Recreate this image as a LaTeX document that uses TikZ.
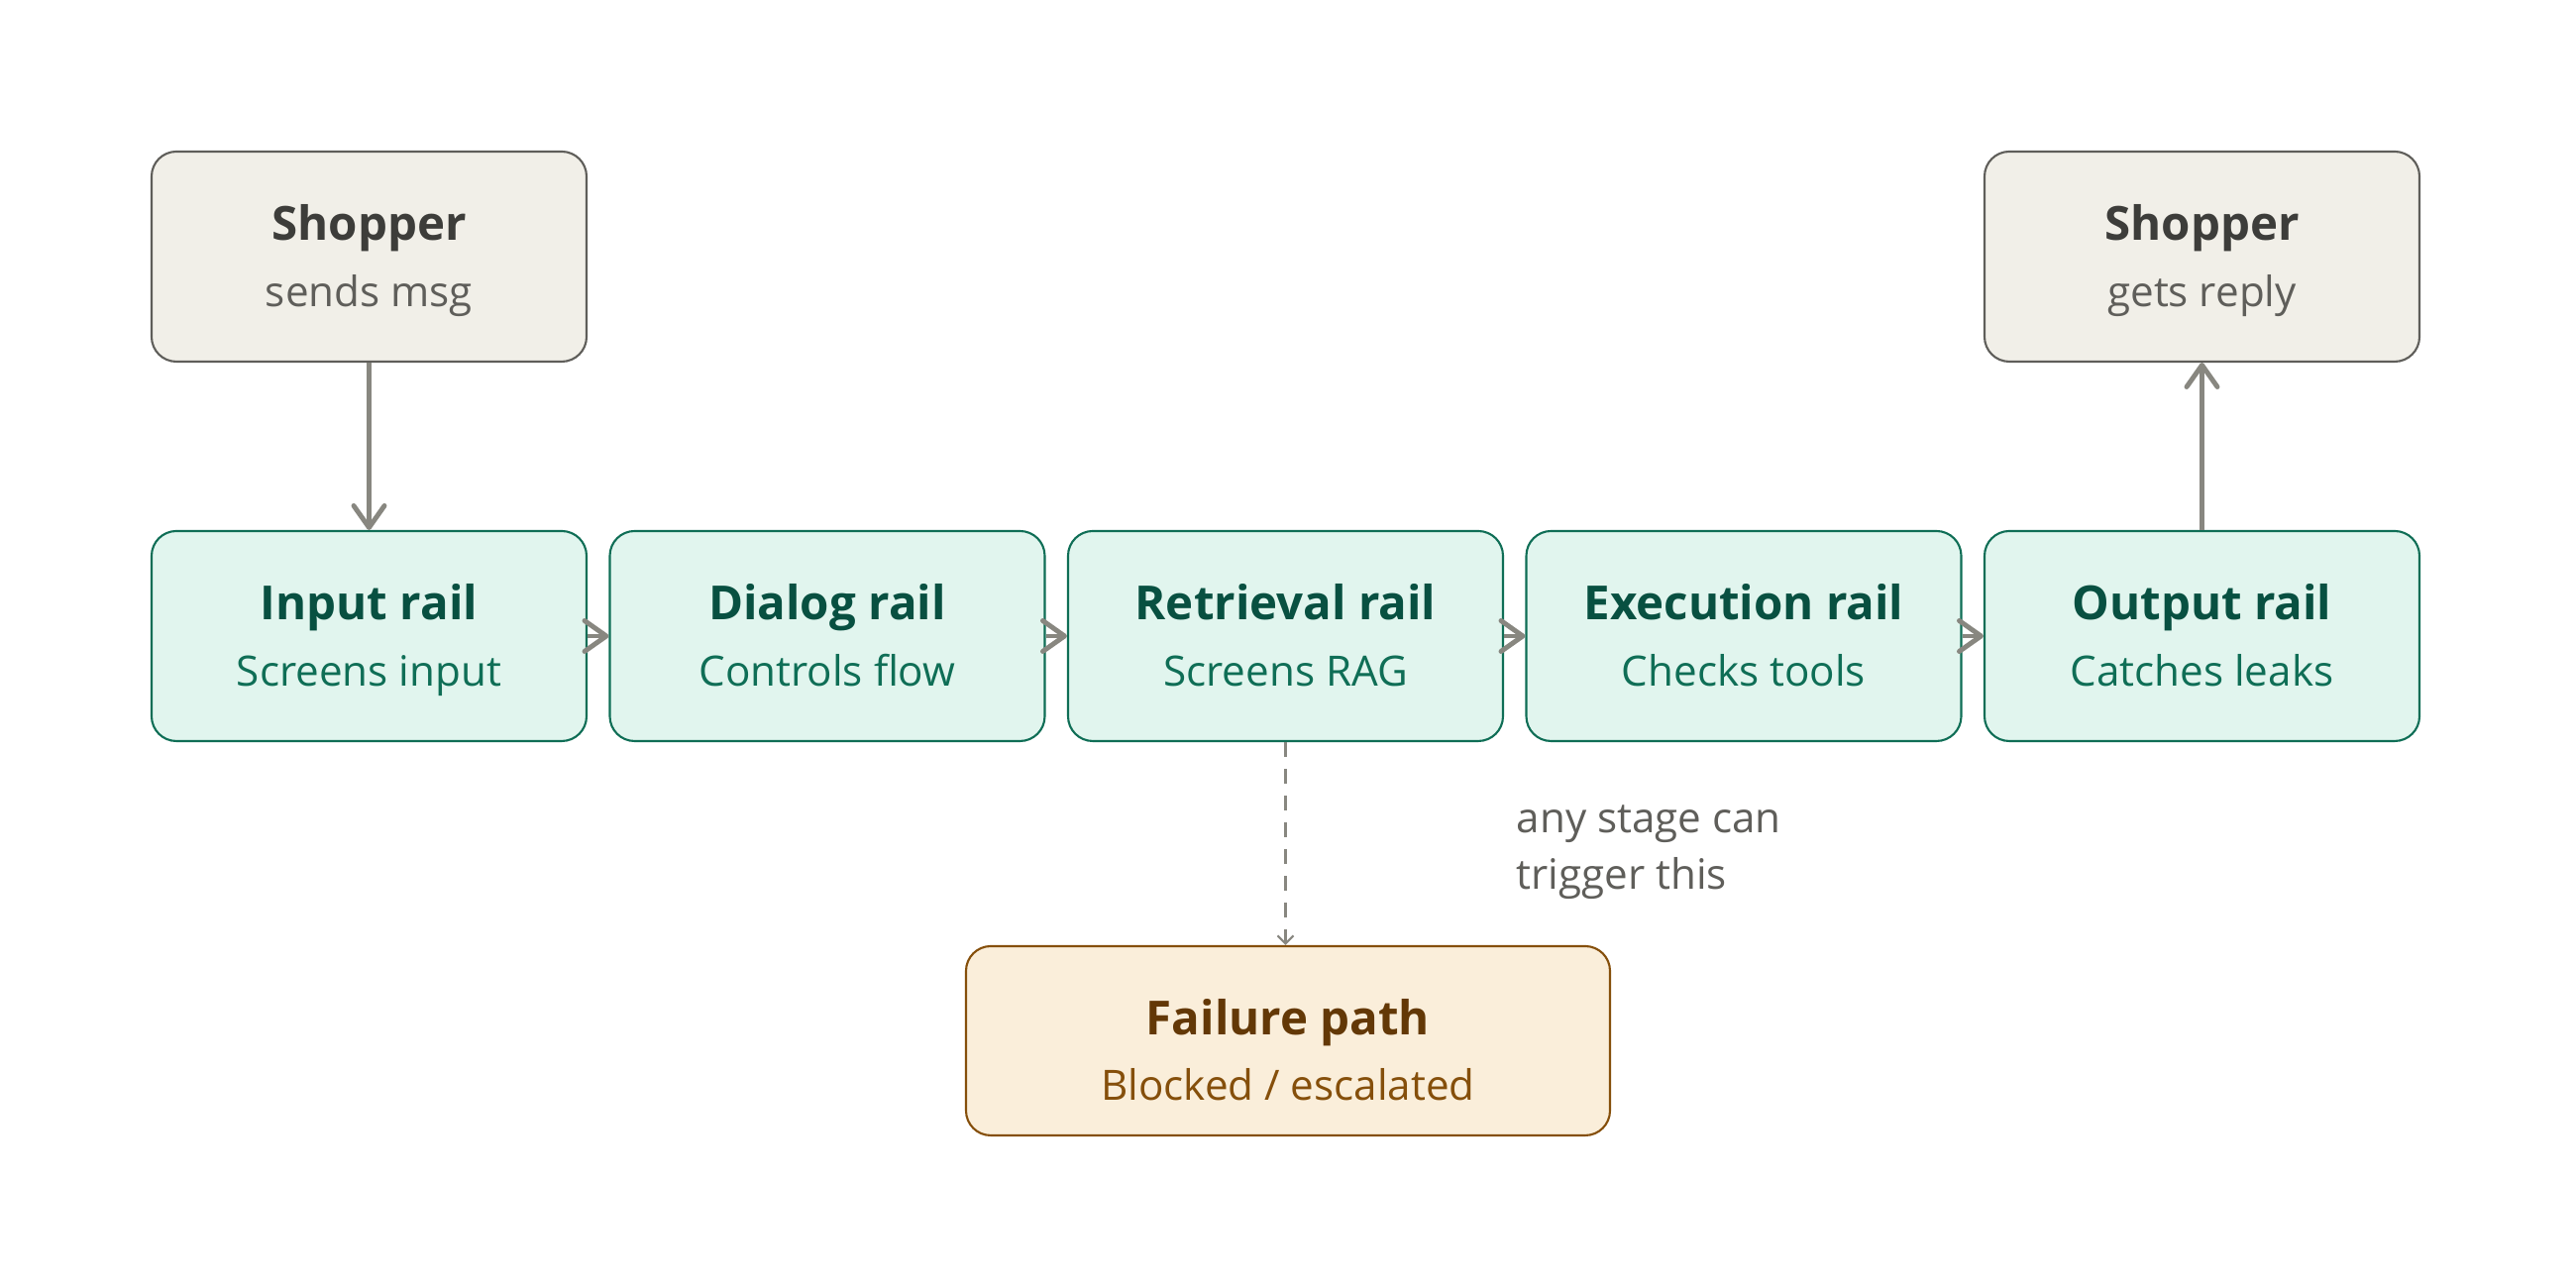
\documentclass[tikz,border=0pt]{standalone}
\usepackage{fontspec}
\setmainfont{Open Sans}
\usetikzlibrary{arrows.meta}
\definecolor{shopfill}{HTML}{F1EFE8}
\definecolor{shopdraw}{HTML}{5F5E5A}
\definecolor{shoptitle}{HTML}{3D3D3A}
\definecolor{shopsub}{HTML}{5F5E5A}
\definecolor{railfill}{HTML}{E1F5EE}
\definecolor{raildraw}{HTML}{0F6E56}
\definecolor{railtitle}{HTML}{085041}
\definecolor{railsub}{HTML}{0F6E56}
\definecolor{failfill}{HTML}{FAEEDA}
\definecolor{faildraw}{HTML}{854F0B}
\definecolor{failtitle}{HTML}{633806}
\definecolor{failsub}{HTML}{854F0B}
\definecolor{arrowgray}{HTML}{888780}
\definecolor{notegray}{HTML}{5F5E5A}
\tikzset{
  box/.style={rectangle, rounded corners=0.25cm, line width=0.6pt, minimum width=4.39cm, minimum height=2.12cm, inner sep=0pt},
  shopbox/.style={box, fill=shopfill, draw=shopdraw},
  railbox/.style={box, fill=railfill, draw=raildraw},
  failbox/.style={box, fill=failfill, draw=faildraw, minimum width=6.5cm, minimum height=1.91cm},
  ttl/.style={anchor=base, inner sep=0pt, font=\fontsize{13.5}{16}\selectfont\bfseries},
  sub/.style={anchor=base, inner sep=0pt, font=\fontsize{12}{14}\selectfont},
  note/.style={anchor=base west, inner sep=0pt, font=\fontsize{12}{14}\selectfont, text=notegray},
  flow/.style={draw=arrowgray, line width=1.4pt, -{Straight Barb[length=0.22cm,width=0.31cm,line cap=round,line join=round]}},
  fail/.style={draw=arrowgray, line width=0.6pt, dash pattern=on 0.15cm off 0.12cm, -{Straight Barb[length=0.08cm,width=0.16cm]}}
}
\begin{document}
\begin{tikzpicture}
\useasboundingbox (0,0) rectangle (26,13);
% boxes
\node[shopbox] (shopin) at (3.725,10.41) {};
\node[shopbox] (shopout) at (22.225,10.41) {};
\node[railbox] (input) at (3.725,6.58) {};
\node[railbox] (dialog) at (8.35,6.58) {};
\node[railbox] (retr) at (12.975,6.58) {};
\node[railbox] (exec) at (17.6,6.58) {};
\node[railbox] (output) at (22.225,6.58) {};
\node[failbox] (failure) at (13.0,2.495) {};
% texts
\node[ttl, text=shoptitle] (t1) at ([yshift=0.16cm]shopin.center) {Shopper};
\node[sub, text=shopsub] (s1) at ([yshift=-0.51cm]shopin.center) {sends msg};
\node[ttl, text=shoptitle] (t2) at ([yshift=0.16cm]shopout.center) {Shopper};
\node[sub, text=shopsub] (s2) at ([yshift=-0.51cm]shopout.center) {gets reply};
\node[ttl, text=railtitle] (t3) at ([yshift=0.16cm]input.center) {Input rail};
\node[sub, text=railsub] (s3) at ([yshift=-0.51cm]input.center) {Screens input};
\node[ttl, text=railtitle] (t4) at ([yshift=0.16cm]dialog.center) {Dialog rail};
\node[sub, text=railsub] (s4) at ([yshift=-0.51cm]dialog.center) {Controls flow};
\node[ttl, text=railtitle] (t5) at ([yshift=0.16cm]retr.center) {Retrieval rail};
\node[sub, text=railsub] (s5) at ([yshift=-0.51cm]retr.center) {Screens RAG};
\node[ttl, text=railtitle] (t6) at ([yshift=0.16cm]exec.center) {Execution rail};
\node[sub, text=railsub] (s6) at ([yshift=-0.51cm]exec.center) {Checks tools};
\node[ttl, text=railtitle] (t7) at ([yshift=0.16cm]output.center) {Output rail};
\node[sub, text=railsub] (s7) at ([yshift=-0.51cm]output.center) {Catches leaks};
\node[ttl, text=failtitle] (t8) at ([yshift=0.055cm]failure.center) {Failure path};
\node[sub, text=failsub] (s8) at ([yshift=-0.60cm]failure.center) {Blocked / escalated};
\node[note] (n1) at (15.30,4.59) {any stage can};
\node[note] (n2) at (15.30,4.02) {trigger this};
% connectors
\draw[flow] (shopin.south) -- (input.north);
\draw[flow] (input.east) -- (dialog.west);
\draw[flow] (dialog.east) -- (retr.west);
\draw[flow] (retr.east) -- (exec.west);
\draw[flow] (exec.east) -- (output.west);
\draw[flow] (output.north) -- (shopout.south);
\draw[fail] (retr.south) -- (retr.south |- failure.north);
\end{tikzpicture}
\end{document}
